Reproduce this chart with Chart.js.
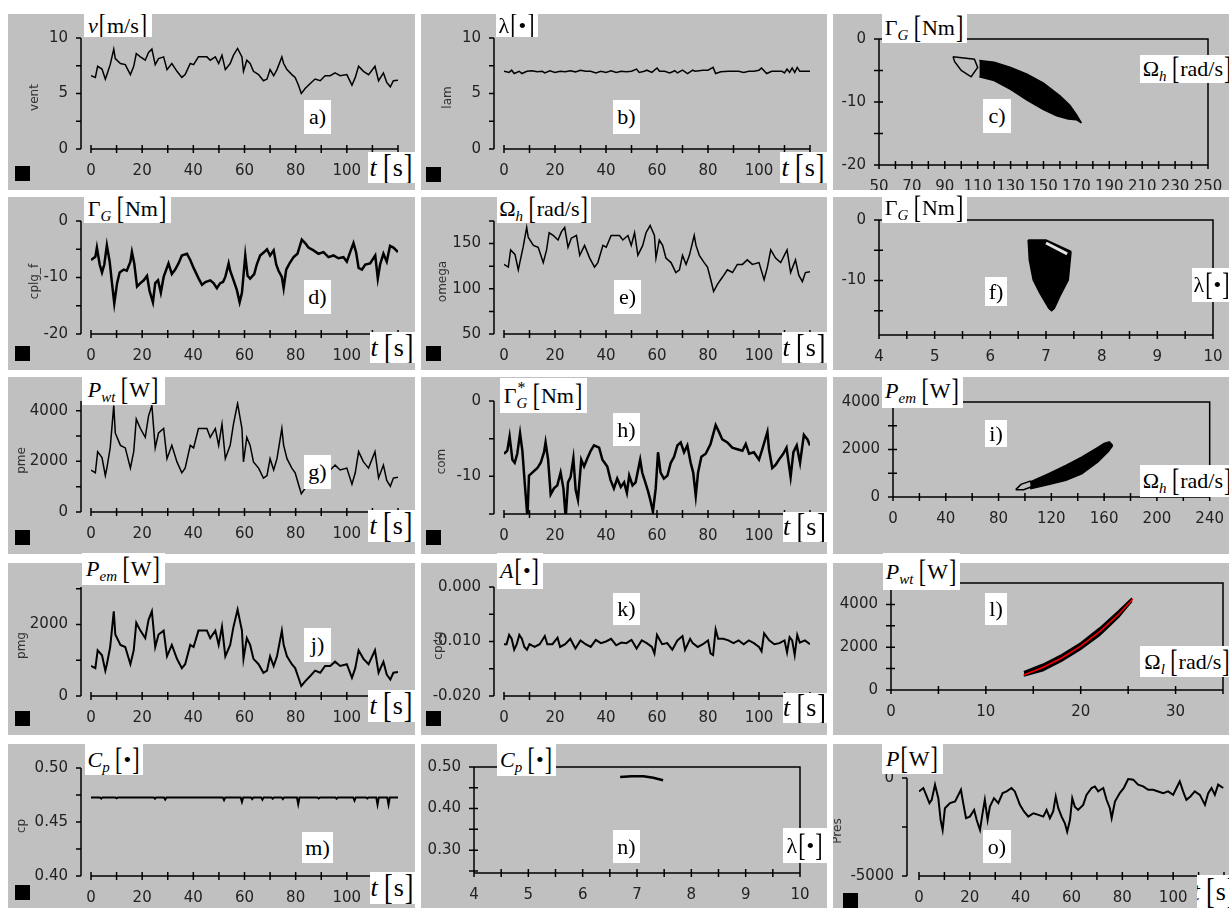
<!DOCTYPE html>
<html>
<head>
<meta charset="utf-8">
<script src="https://cdn.jsdelivr.net/npm/chart.js@4.4.0/dist/chart.umd.min.js"></script>
<style>
body{margin:0;background:#fff}
#wrap{position:relative;width:1229px;height:908px;overflow:hidden;background:#fff}
.pan{position:absolute;background:#c0c0c0;overflow:hidden}
.pan canvas{position:absolute;left:0;top:0}
.lab{position:absolute;background:#fff;display:flex;align-items:center;justify-content:center;font-family:"Liberation Serif","Times New Roman",serif;font-size:22px;line-height:1;color:#000;white-space:nowrap;overflow:hidden}
.lab.big{font-size:26px}
.lab .k{display:inline-block;transform:scaleY(1.4);margin:0 1px}
.lab sub{font-size:15px;vertical-align:-5px;line-height:0}
.lab .gw{position:relative}
.lab .st{position:absolute;right:-9px;top:-3px;font-size:16px}
.sq{position:absolute;width:15px;height:15px;background:#000}
</style>
</head>
<body>
<div id="wrap"></div>
<script>
// ---- time series sharing the wind time base
const tW = [0,1.7,2.6,4.3,5.6,6.2,7.5,8.9,9.5,11.5, 13.4,15.4,16.7,17.7,19.3,21.2,22.5,23.8,25.1,26.4,
  28.4,29.7,31.6,33.6,35.5,36.8,38.8,40.1,42,45.3, 46.6,48.6,49.9,51.2,52.5,54.4,55.7,57.3,59,59.6,
  60.9,62.2,63.5,65.5,67.4,68.8,70,71.4,72.7,74.6, 75.3,76.6,78.5,79.8,81.1,82.2,83.7,85.7,87.6,89.6,
  91.5,93.5,95.4,97.4,100,102,103.3,104.6,106.5,108.5, 111,112.4,114.3,115.6,117,118.2,120];
const vent = [6.6,6.45,7.45,7.2,6.3,6.7,7.6,9.0,8.15,7.7, 7.6,6.7,7.45,8.6,8.3,8.0,8.7,9.0,7.6,8.15,
  8.3,7.15,7.7,7.0,6.45,6.7,7.7,7.6,8.3,8.3, 8.0,8.3,7.7,8.45,7.15,7.7,8.45,9.06,8.3,7.0,
  8.0,7.7,7.0,6.7,6.15,6.3,7.15,6.6,7.15,8.3, 7.7,7.15,6.7,6.45,5.75,5.0,5.45,5.9,6.3,6.15,
  6.6,6.6,6.85,6.6,6.7,5.75,6.45,7.45,7.0,6.7, 7.45,6.15,6.85,6.0,5.6,6.15,6.2];
const omega = [127,124,143,138,121,129,146,168,157,148, 146,129,143,162,159,154,163,168,146,156,
  159,137,148,134,124,129,148,146,159,159, 154,159,148,162,137,148,162,170,159,134,
  154,148,134,129,118,121,137,127,137,159, 148,137,129,124,110,97,105,113,121,118,
  127,127,132,127,129,110,124,143,134,129, 143,118,132,115,108,118,119];
const pme = [1656,1546,2382,2150,1440,1732,2528,4199,3118,2630, 2528,1732,2382,3664,3294,2949,3793,4199,2528,3118,
  3294,2105,2630,1976,1546,1732,2630,2528,3294,3294, 2949,3294,2630,3475,2105,2630,3475,4284,3294,1976,
  2949,2630,1976,1732,1340,1440,2105,1656,2105,3294, 2630,2105,1732,1546,1095,720,932,1183,1440,1340,
  1656,1656,1851,1656,1732,1095,1546,2382,1976,1732, 2382,1340,1851,1244,1012,1340,1373];
const pmg = [840,780,1280,1140,710,890,1370,2370,1720,1430, 1370,890,1280,2050,1830,1620,2130,2370,1370,1720,
  1830,1110,1430,1040,780,890,1430,1370,1830,1830, 1620,1830,1430,1940,1110,1430,1940,2420,1830,1040,
  1620,1430,1040,890,650,710,1110,840,1110,1830, 1430,1110,890,780,510,280,410,560,710,650,
  840,840,960,840,890,510,780,1280,1040,890, 1280,650,960,600,460,650,670];

// ---- lambda
const lamT = [0,2,3,4,6,7,9,11,13,15,16,18,20,22,24,26,28,30,32,34,36,38,40,42,44,46,48,50,52,53,
  55,56,58,60,61,63,65,67,68,70,72,74,75,78,80,82,83,85,88,92,94,96,98,100,101,103,105,107,109,110,
  111,112,113,114,115,116,118,120];
const lam = [7.0,6.9,7.1,6.8,7.0,6.8,7.0,7.05,6.95,7.0,6.85,7.05,6.9,7.0,6.95,7.05,6.95,7.1,7.0,7.0,
  6.85,7.0,6.9,7.05,6.9,7.0,6.95,7.0,7.2,6.9,7.0,7.1,6.9,7.3,7.0,7.0,6.85,7.05,6.85,7.1,
  6.8,7.1,7.0,7.1,7.1,7.35,6.8,6.95,7.0,7.0,6.9,7.0,7.0,7.1,7.3,6.8,7.0,7.0,7.0,6.85,
  7.2,6.9,7.3,6.9,7.35,7.0,7.0,7.0];

// ---- generator torque
const cplgT = [0,1.7,2.3,3.4,4.3,5.2,6.2,7.3,8.2,9.1,10.2,11.2,12.8,14,15.4,16,16.9,18,19.3,20.6,
  21.9,22.9,24.2,25.1,26.2,27.3,28.4,30.3,31.6,32.9,34.2,35.5,37.5,38.8,40.1,42.1,43.4,44.7,46.6,47.9,
  49.2,50.5,51.6,52.5,53.8,54.4,55.5,57,58.1,59,60.3,61.2,62.2,63.8,64.8,66.1,67.7,68.8,70,71.4,
  72.4,73.3,74.6,75.3,76.3,77.6,79.2,80.7,82.4,83.7,85,87,88.9,90.9,92.8,94.8,96.7,98.7,100,101.3,
  102.6,103.6,104.6,105.9,107.2,109.1,111.1,112.1,113,114.3,115.6,116.9,118.2,120];
const cplg = [-6.9,-6.35,-4.7,-7.7,-9.1,-7.7,-4.3,-7.2,-11,-14.6,-11,-9.1,-8.6,-8.8,-7.2,-5.5,-7.5,-11.6,-11,-10.5,
  -9.7,-12.4,-14.4,-11,-10.5,-12.7,-9.9,-7.5,-9.4,-8.6,-7.5,-6.1,-5.8,-6.9,-8.3,-10.2,-11.3,-10.8,-10.5,-11,
  -11.9,-11,-10.8,-9.9,-7.5,-8.8,-10.2,-12.2,-14.4,-12.7,-6.1,-9.7,-10.2,-9.4,-7.7,-6.1,-5.5,-5.0,-6.1,-5.2,
  -7.7,-8.8,-9.9,-11.9,-8.6,-7.5,-6.4,-5.8,-3.3,-3.9,-4.7,-5.2,-5.8,-5.5,-6.4,-6.1,-6.6,-6.4,-7.2,-5.5,
  -3.9,-5.5,-8.3,-8.6,-7.7,-7.5,-6.1,-10.2,-7.7,-5.8,-7.2,-4.4,-4.7,-5.5];

// ---- torque command
const comT = [0,1.3,2.2,3.3,4.2,5.2,6.3,7.2,8.2,9.2,9.8,11.1,13.1,14.4,15.7,16.3,17.3,18.3,19.6,20.9,
  22.2,23.3,24.2,25.1,26.1,27.2,28.1,29,30.3,31.4,32.7,34,35.3,37.3,38.6,40.5,41.8,43.1,44.4,45.8,
  47.1,48.2,49.1,50.4,51.6,53.4,54.2,55.6,56.5,57.5,58.4,59.5,60.4,61.4,62.7,64.1,65.4,66.7,68,69.3,
  70.6,71.9,73.2,74.2,75.2,76.1,77.4,79.1,81,83,84.3,85.6,87.6,89.5,91.5,93.5,94.8,96.1,98,100,
  101.3,103.3,103.9,105.2,106.5,107.8,109.5,110.8,112.4,113.5,114.8,116.1,117.6,119,120];
const com = [-7,-6.6,-4.7,-7.8,-8.2,-7,-4.3,-6.6,-11.2,-15.5,-9.9,-9.5,-8.9,-8.2,-6.8,-5.5,-7.8,-12.4,-11.6,-11.2,
  -9.5,-11.6,-15.5,-10.8,-10.1,-7.6,-11.8,-13.1,-7.8,-8.7,-7.6,-6.6,-5.9,-6.2,-7.8,-8.7,-10.5,-11.6,-10.3,-11.4,
  -10.8,-12.2,-9.9,-11.2,-10.8,-7.8,-9.5,-11,-12,-13.3,-14.7,-11.6,-6.8,-9.5,-10.3,-9.9,-8.2,-7.4,-5.9,-5.5,
  -6.8,-5.9,-8.2,-9.5,-12.6,-9.5,-7.4,-7,-5.7,-3.2,-4.1,-5.1,-5.5,-6.2,-6.4,-6.6,-5.7,-7,-6.8,-7.8,
  -6.4,-4.1,-6.4,-8.9,-8.5,-7.8,-7,-6.2,-10.1,-6.8,-5.9,-8.2,-4.5,-5.1,-5.9];

// ---- A
const cpcgT = [0,1,2,3,4,5,6,7,8,9,10,12,14,16,17,19,21,22,24,26,28,30,32,34,36,38,40,42,44,46,
  48,50,52,54,56,58,59,60,62,64,66,68,70,71,73,74,76,78,80,81,82,83,84,86,88,90,92,94,96,98,
  100,101,102,104,106,108,110,111,112,113,114,115,116,118,120];
const cpcg = [-0.0105,-0.0105,-0.0088,-0.0095,-0.0115,-0.0105,-0.0088,-0.0095,-0.011,-0.0115,-0.0105,
  -0.011,-0.0105,-0.009,-0.0105,-0.0105,-0.0093,-0.011,-0.0105,-0.0095,-0.0113,-0.0098,-0.0105,-0.011,-0.0097,
  -0.0103,-0.01,-0.0095,-0.0107,-0.0102,-0.0103,-0.0097,-0.0113,-0.0098,-0.0103,-0.011,-0.0122,-0.0088,-0.0105,
  -0.0103,-0.0115,-0.0098,-0.009,-0.0115,-0.0095,-0.0103,-0.011,-0.0105,-0.0098,-0.0122,-0.0125,-0.0078,-0.0095,
  -0.0095,-0.0098,-0.0103,-0.0098,-0.0105,-0.0098,-0.0103,-0.011,-0.0118,-0.0085,-0.0098,-0.0105,-0.0103,-0.0098,
  -0.012,-0.0092,-0.0098,-0.0125,-0.0088,-0.0102,-0.0098,-0.0105];

// ---- Cp
const cpT = [0,3.5,4,4.5,9.5,10,10.5,24.5,25,25.5,28.5,29,29.5,51.5,52,52.5,58.5,59,59.5,62.5,63,63.5,
  66.5,67,67.5,70.5,71,71.5,74.5,75,75.5,80.5,81,81.5,88.5,89,89.5,95.5,96,96.5,102.5,103,103.5,
  107.5,108,108.5,111.5,112,112.5,115.8,116.3,116.8,120];
const cp = [0.4728,0.4728,0.4716,0.4728,0.4728,0.4719,0.4728,0.4728,0.4715,0.4728,0.4728,0.4708,0.4728,
  0.4728,0.4702,0.4728,0.4728,0.4686,0.4728,0.4728,0.4712,0.4728,0.4728,0.4706,0.4728,0.4728,0.4715,0.4728,
  0.4728,0.4712,0.4728,0.4728,0.4665,0.4728,0.4728,0.4718,0.4728,0.4728,0.4715,0.4728,0.4728,0.4698,0.4728,
  0.4728,0.4718,0.4728,0.4728,0.4662,0.4728,0.4728,0.4662,0.4728,0.4728];

// ---- grid power
const presT = [0,1.7,2.8,4.1,5,6.3,7.6,8.5,9.3,10.2,12.2,14.2,15.5,16.5,17.4,18.5,20,21.7,22.7,24,
  24.9,25.9,27,27.9,29.5,31.2,32.9,34.5,36.4,37.7,39.7,41.3,43,45,47,48.9,50.2,51.5,52.8,53.8,
  54.8,56.1,57.4,58.3,59.4,60.3,61.3,62.6,64.6,65.9,67.9,69.2,70.5,72.5,73.8,75.1,75.8,77.1,79,80.6,
  82.3,84.3,86.2,88.2,90.2,92.1,94.1,96.1,98,100,101.3,102.6,103.9,105.2,106.8,108.5,110.5,112.5,113.8,115.1,
  116.4,117.7,119.7];
const pres = [-685,-510,-860,-1280,-1110,-340,-1030,-2140,-2650,-1540,-1280,-1200,-860,-600,-1280,-2050,-1970,-1630,-2140,-2650,
  -1880,-1110,-2140,-1460,-1030,-1280,-770,-685,-510,-685,-1370,-1710,-1970,-1800,-1880,-1970,-1630,-2050,-1710,-940,
  -1540,-1970,-2310,-2740,-2140,-1030,-1460,-1630,-1370,-860,-510,-430,-685,-510,-1110,-1540,-2050,-1200,-770,-510,
  -50,-85,-340,-430,-600,-600,-685,-770,-685,-860,-510,-170,-685,-1110,-940,-685,-860,-1370,-770,-510,
  -860,-340,-510];

// ---- phase-plane envelopes
const cUpX = [111,120,130,140,150,160,166,170,173], cUpY = [-3.4,-3.7,-4.5,-5.6,-7,-9,-10.5,-12,-13.3];
const cLoX = [111,120,130,140,150,158,165,170,173], cLoY = [-6,-6.6,-8,-9.7,-11.2,-12.2,-12.7,-12.8,-13.3];
const cLoopX = [95,108,110,106,100,96,95], cLoopY = [-2.8,-3.2,-4.5,-6.0,-5.0,-3.6,-2.8];

const fUpX = [6.68,7.0,7.45], fUpY = [-3.3,-3.3,-5.2];
const fLoX = [6.68,6.7,6.77,6.89,7.05,7.1,7.15,7.25,7.4,7.45], fLoY = [-3.3,-6.6,-9.9,-12.1,-14.6,-15,-14.6,-12.6,-9.9,-5.2];
const fSlitX = [7.0,7.38], fSlitY = [-3.8,-5.6];

const iUpX = [104,118,131,143,155,160,164,166.5], iUpY = [630,980,1330,1680,2080,2250,2320,2170];
const iLoX = [104,118,131,143,155,163,166.5], iLoY = [350,530,700,980,1470,1900,2170];
const iLoopX = [93,97,104,106,99,93], iLoopY = [310,530,670,450,310,310];

const lUpX = [14,16,18,20,22,24,25.4], lUpY = [850,1200,1650,2200,2900,3700,4300];
const lLoX = [14,16,18,20,22,24,25.4], lLoY = [650,900,1350,1900,2550,3400,4150];
const lFitX = [14,16,18,20,22,24,25.5], lFitY = [703,1050,1495,2050,2729,3543,4250];

const nX = [6.69,6.9,7.12,7.3,7.48], nY = [0.476,0.4775,0.4776,0.474,0.468];

// ---- tick labels
const tTicks = [0,20,40,60,80,100];

const pts = (xs, ys) => xs.map((x, i) => ({x: x, y: ys[i]}));
const line = (xs, ys, w, col) => ({data: pts(xs, ys), borderColor: col || '#000', borderWidth: w, pointRadius: 0, fill: false});
// overlay first (drawn on top), then lower edge, then upper edge filled down to the lower edge
const blob = (over, lx, ly, ux, uy) => [
  over,
  line(lx, ly, 1.5),
  {data: pts(ux, uy), borderColor: '#000', borderWidth: 1.5, pointRadius: 0, fill: 1, backgroundColor: '#000'}
];

function steps(min, max, st) {
  const out = [];
  const a = Math.ceil(min / st - 1e-6), b = Math.floor(max / st + 1e-6);
  for (let i = a; i <= b; i++) out.push(i * st);
  return out;
}

// axis lines, tick marks and the rotated variable name
const axesPlugin = {
  id: 'axes',
  afterDatasetsDraw(chart, args, o) {
    const {ctx, chartArea: a} = chart;
    const x = chart.scales.x, y = chart.scales.y;
    const ax = a.left - o.gap;
    ctx.save();
    ctx.strokeStyle = '#000';
    ctx.lineWidth = 1.5;
    ctx.beginPath();
    ctx.moveTo(ax, a.top); ctx.lineTo(ax, a.bottom);
    ctx.moveTo(a.left, a.bottom); ctx.lineTo(a.right, a.bottom);
    if (o.frame) {
      ctx.moveTo(a.left, a.top); ctx.lineTo(a.right, a.top); ctx.lineTo(a.right, a.bottom);
    }
    steps(y.min, y.max, o.ys).forEach(v => {
      const p = y.getPixelForValue(v);
      ctx.moveTo(ax - 5, p); ctx.lineTo(ax + (o.frame ? 4 : 0), p);
    });
    steps(x.min, x.max, o.xs).forEach(v => {
      const p = x.getPixelForValue(v);
      ctx.moveTo(p, a.bottom - 4); ctx.lineTo(p, a.bottom + 4);
    });
    ctx.stroke();
    if (o.title) {
      ctx.translate(o.tx, (a.top + a.bottom) / 2 + 4);
      ctx.rotate(-Math.PI / 2);
      ctx.fillStyle = '#333';
      ctx.font = '12px "DejaVu Sans"';
      ctx.textAlign = 'center';
      ctx.textBaseline = 'middle';
      ctx.fillText(o.title, 0, 0);
    }
    ctx.restore();
  }
};

const wrap = document.getElementById('wrap');
const tickFont = {family: 'DejaVu Sans', size: 15};

function panel(p) {
  const [bx, by, bw, bh] = p.box;
  const [L, T, R, B] = p.area;
  const div = document.createElement('div');
  div.className = 'pan';
  div.style.cssText = `left:${bx}px;top:${by}px;width:${bw}px;height:${bh}px`;
  const cv = document.createElement('canvas');
  cv.width = bw; cv.height = bh;
  div.appendChild(cv);
  wrap.appendChild(div);
  const gap = p.frame ? 0 : (p.gap || 10);
  new Chart(cv, {
    type: 'line',
    data: {datasets: p.sets},
    options: {
      responsive: false, animation: false, devicePixelRatio: 1, events: [],
      layout: {padding: {left: 0, top: T - by, right: bx + bw - R, bottom: 0}},
      plugins: {legend: {display: false}, tooltip: {enabled: false},
        axes: {gap: gap, frame: !!p.frame, xs: p.xs || 10, ys: p.ys, title: p.title, tx: p.tx || 27}},
      scales: {
        x: {type: 'linear', min: p.x ? p.x[0] : 0, max: p.x ? p.x[1] : 120,
          afterFit: s => { s.height = by + bh - B; },
          afterBuildTicks: s => { s.ticks = (p.xt || tTicks).map(v => ({value: v})); },
          grid: {display: false}, border: {display: false},
          ticks: {padding: 5, color: '#222', font: tickFont, maxRotation: 0, autoSkip: false,
            callback: v => String(v)}},
        y: {type: 'linear', min: p.y[0], max: p.y[1],
          afterFit: s => { s.width = L - bx; },
          afterBuildTicks: s => { s.ticks = p.yt.map(v => ({value: v})); },
          grid: {display: false}, border: {display: false},
          ticks: {padding: gap + 5, color: '#222', font: tickFont, autoSkip: false,
            callback: v => p.dec ? v.toFixed(p.dec) : String(v)}}
      }
    },
    plugins: [axesPlugin]
  });
}

function lab(html, x, y, w, h, cls) {
  const d = document.createElement('div');
  d.className = 'lab' + (cls ? ' ' + cls : '');
  d.style.cssText = `left:${x}px;top:${y}px;width:${w}px;height:${h}px`;
  d.innerHTML = '<span>' + html + '</span>';
  wrap.appendChild(d);
}
function sq(x, y) {
  const d = document.createElement('div');
  d.className = 'sq';
  d.style.cssText = `left:${x}px;top:${y}px`;
  wrap.appendChild(d);
}

const K = s => '<span class="k">' + s + '</span>';
const unit = u => K('[') + u + K(']');
const M = {
  v: '<i>v</i>' + unit('m/s'),
  lam: 'λ' + unit('•'),
  gam: 'Γ<sub><i>G</i></sub>&thinsp;' + unit('Nm'),
  gams: '<span class="gw">Γ<span class="st">*</span></span><sub><i>G</i></sub>&thinsp;' + unit('Nm'),
  omh: 'Ω<sub><i>h</i></sub>&thinsp;' + unit('rad/s'),
  oml: 'Ω<sub><i>l</i></sub>&thinsp;' + unit('rad/s'),
  pwt: '<i>P</i><sub><i>wt</i></sub>&thinsp;' + unit('W'),
  pem: '<i>P</i><sub><i>em</i></sub>&thinsp;' + unit('W'),
  cp: '<i>C</i><sub><i>p</i></sub>&thinsp;' + unit('•'),
  a: '<i>A</i>' + unit('•'),
  p: '<i>P</i>' + unit('W'),
  t: '<i>t</i>&thinsp;' + unit('s')
};

const panels = [
  {box: [8,14,407,176], area: [91,32,398,149], y: [0,10], yt: [0,5,10], ys: 2.5, title: 'vent',
    sets: [line(tW, vent, 1.5)]},
  {box: [421,14,406,176], area: [504,32,810,149], y: [0,10], yt: [0,5,10], ys: 2.5, title: 'lam',
    sets: [line(lamT, lam, 1.5)]},
  {box: [833,14,396,176], area: [879,39,1208,165], frame: true, x: [50,250],
    xt: [50,70,90,110,130,150,170,190,210,230,250], xs: 10, y: [-20,0], yt: [0,-10,-20], ys: 5,
    sets: blob(line(cLoopX, cLoopY, 1.5), cLoX, cLoY, cUpX, cUpY)},
  {box: [8,197,407,173], area: [91,213,398,334], y: [-20,0], yt: [0,-10,-20], ys: 5, title: 'cplg_f',
    sets: [line(cplgT, cplg, 2.5)]},
  {box: [421,197,406,173], area: [504,213,810,334], y: [50,175], yt: [50,100,150], ys: 25, title: 'omega', tx: 22,
    sets: [line(tW, omega, 1.5)]},
  {box: [833,197,396,173], area: [879,220,1213,335], frame: true, x: [4,10], xt: [4,5,6,7,8,9,10], xs: 0.5,
    y: [-19,0], yt: [0,-10], ys: 5,
    sets: blob(line(fSlitX, fSlitY, 3, '#e4e4e4'), fLoX, fLoY, fUpX, fUpY)},
  {box: [8,377,407,177], area: [91,386,398,512], y: [0,4380], yt: [0,2000,4000], ys: 1000, title: 'pme', tx: 14,
    sets: [line(tW, pme, 1.5)]},
  {box: [421,377,406,177], area: [504,394,810,514], y: [-15,0], yt: [0,-10], ys: 5, title: 'com', tx: 21,
    sets: [line(comT, com, 2.5)]},
  {box: [833,377,396,177], area: [893,402,1218,497], frame: true, x: [0,240], xt: [0,40,80,120,160,200,240], xs: 20,
    y: [0,4000], yt: [0,2000,4000], ys: 1000,
    sets: blob(line(iLoopX, iLoopY, 1.5), iLoX, iLoY, iUpX, iUpY)},
  {box: [8,563,407,172], area: [91,574,398,696], y: [0,3050], yt: [0,2000], ys: 1000, title: 'pmg', tx: 14,
    sets: [line(tW, pmg, 2)]},
  {box: [421,563,406,172], area: [504,574,810,696], y: [-0.02,0], yt: [0,-0.01,-0.02], ys: 0.005, dec: 3,
    title: 'cpcg', tx: 18, sets: [line(cpcgT, cpcg, 2)]},
  {box: [833,563,396,172], area: [891,583,1223,690], frame: true, x: [0,35], xt: [0,10,20,30], xs: 5,
    y: [0,5000], yt: [0,2000,4000], ys: 1000,
    sets: blob(line(lFitX, lFitY, 1.5, '#ff0000'), lLoX, lLoY, lUpX, lUpY)},
  {box: [8,744,407,164], area: [91,753,398,876], y: [0.4,0.5], yt: [0.4,0.45,0.5], ys: 0.025, dec: 2,
    title: 'cp', tx: 14, sets: [line(cpT, cp, 2)]},
  {box: [421,744,406,164], area: [474,767,800,873], frame: true, x: [4,10], xt: [4,5,6,7,8,9,10], xs: 0.5,
    y: [0.245,0.5], yt: [0.3,0.4,0.5], ys: 0.05, dec: 2, sets: [line(nX, nY, 2.5)]},
  {box: [833,744,396,164], area: [919,778,1224,876], gap: 12, y: [-5000,0], yt: [0,-5000], ys: 2500,
    title: 'Pres', tx: 5, sets: [line(presT, pres, 2)]}
];
panels.forEach(panel);

// labels
lab(M.v, 84, 14, 68, 23); lab('a)', 304, 100, 27, 34); lab(M.t, 368, 152, 47, 31, 'big');
lab(M.lam, 496, 14, 42, 23); lab('b)', 613, 100, 27, 34); lab(M.t, 780, 152, 47, 31, 'big');
lab(M.gam, 882, 13, 85, 30); lab('c)', 983, 99, 28, 34); lab(M.omh, 1140, 55, 95, 28);
lab(M.gam, 84, 194, 87, 29); lab('d)', 304, 280, 27, 34); lab(M.t, 370, 332, 45, 31, 'big');
lab(M.omh, 497, 195, 94, 28); lab('e)', 614, 280, 27, 34); lab(M.t, 782, 332, 45, 31, 'big');
lab(M.gam, 882, 193, 85, 30); lab('f)', 985, 277, 22, 29); lab(M.lam, 1192, 268, 40, 34);
lab(M.pwt, 82, 375, 83, 30); lab('g)', 304, 455, 27, 34); lab(M.t, 368, 510, 47, 32, 'big');
lab(M.gams, 500, 378, 87, 35); lab('h)', 613, 413, 27, 33); lab(M.t, 783, 512, 44, 30, 'big');
lab(M.pem, 882, 373, 81, 35); lab('i)', 985, 420, 22, 27); lab(M.omh, 1140, 465, 95, 32);
lab(M.pem, 82, 553, 83, 32); lab('j)', 304, 628, 27, 34); lab(M.t, 368, 690, 47, 32, 'big');
lab(M.a, 497, 553, 46, 36); lab('k)', 613, 593, 27, 32); lab(M.t, 783, 693, 44, 30, 'big');
lab(M.pwt, 883, 553, 77, 37); lab('l)', 985, 593, 22, 32); lab(M.oml, 1140, 646, 95, 31);
lab(M.cp, 85, 744, 58, 31); lab('m)', 302, 832, 31, 31); lab(M.t, 370, 872, 45, 32, 'big');
lab(M.cp, 497, 744, 59, 32); lab('n)', 613, 830, 27, 33); lab(M.lam, 783, 828, 44, 35);
lab(M.p, 882, 744, 61, 30); lab('o)', 983, 830, 28, 33); lab(M.t, 1197, 875, 35, 33, 'big');

[[15,166],[426,167],[15,346],[426,346],[15,530],[426,530],[15,711],[426,711],[15,885],[843,893]]
  .forEach(s => sq(s[0], s[1]));
</script>
</body>
</html>
